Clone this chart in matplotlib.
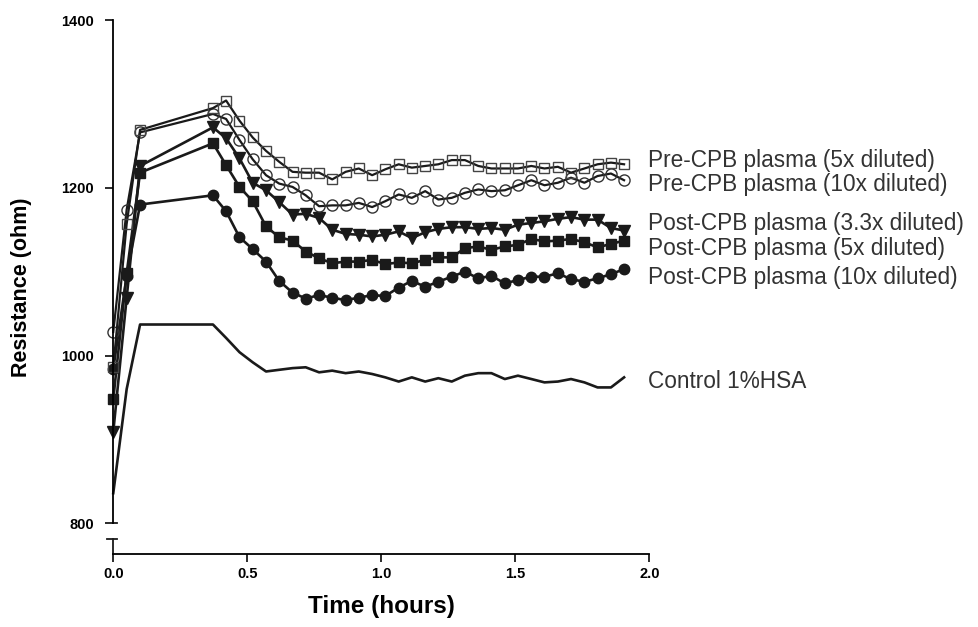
import matplotlib
matplotlib.use("Agg")
import matplotlib.pyplot as plt
from matplotlib.transforms import blended_transform_factory

plt.rcParams["font.family"] = ["Liberation Sans", "DejaVu Sans"]

# time points (hours)
times = [0.0, 0.05, 0.10,
         0.372, 0.421, 0.471, 0.520, 0.570, 0.619, 0.669, 0.718, 0.768, 0.817,
         0.867, 0.916, 0.966, 1.015, 1.065, 1.114, 1.164, 1.213, 1.263, 1.312,
         1.362, 1.411, 1.461, 1.510, 1.560, 1.609, 1.659, 1.708, 1.758, 1.807,
         1.857, 1.906]

pre_5x = [986, 1157, 1269, 1295, 1304, 1280, 1260, 1244, 1231, 1219, 1218, 1218,
          1210, 1219, 1223, 1215, 1222, 1228, 1224, 1226, 1228, 1233, 1233, 1226,
          1223, 1223, 1223, 1226, 1223, 1225, 1218, 1223, 1228, 1230, 1228]
pre_10x = [1028, 1174, 1266, 1288, 1282, 1257, 1234, 1215, 1205, 1201, 1191, 1178,
           1179, 1179, 1182, 1177, 1184, 1192, 1188, 1196, 1186, 1188, 1194, 1198,
           1196, 1197, 1203, 1209, 1203, 1206, 1212, 1206, 1214, 1217, 1209]
post_3x = [909, 1069, 1226, 1272, 1259, 1235, 1206, 1197, 1183, 1168, 1169, 1164,
           1150, 1145, 1144, 1142, 1144, 1148, 1140, 1147, 1151, 1153, 1153, 1151,
           1152, 1150, 1156, 1158, 1160, 1163, 1165, 1162, 1162, 1152, 1149]
post_5x = [948, 1098, 1218, 1253, 1227, 1201, 1184, 1154, 1141, 1137, 1124, 1116,
           1110, 1112, 1112, 1114, 1109, 1111, 1110, 1114, 1117, 1117, 1128, 1130,
           1126, 1130, 1132, 1139, 1136, 1137, 1139, 1135, 1129, 1133, 1137]
post_10x = [984, 1095, 1180, 1191, 1172, 1141, 1127, 1112, 1089, 1075, 1068, 1072,
            1069, 1066, 1069, 1072, 1071, 1081, 1089, 1082, 1088, 1094, 1100, 1092,
            1095, 1086, 1090, 1094, 1094, 1098, 1091, 1088, 1092, 1097, 1103]
control = [836, 960, 1037, 1037, 1021, 1004, 992, 981, 983, 985, 986, 980, 982,
           979, 981, 978, 974, 969, 974, 969, 973, 969, 976, 979, 979, 972, 976,
           972, 968, 969, 972, 968, 962, 962, 974]

labels = ["Pre-CPB plasma (5x diluted)", "Pre-CPB plasma (10x diluted)",
          "Post-CPB plasma (3.3x diluted)", "Post-CPB plasma (5x diluted)",
          "Post-CPB plasma (10x diluted)", "Control 1%HSA"]
label_y = [1233, 1204, 1158, 1128, 1093, 969]

fig = plt.figure(figsize=(9.79, 6.27), dpi=100)
ax = fig.add_axes([0.1157, 0.1172, 0.5475, 0.8509])

line_col = "#1a1a1a"
ax.plot(times, control, color=line_col, lw=1.9, clip_on=False)
ax.plot(times, post_10x, color=line_col, lw=1.9, marker="o", ms=7.5,
        mfc=line_col, mec=line_col, clip_on=False)
ax.plot(times, post_5x, color=line_col, lw=1.9, marker="s", ms=7.3,
        mfc=line_col, mec=line_col, clip_on=False)
ax.plot(times, post_3x, color=line_col, lw=1.9, marker="v", ms=8,
        mfc=line_col, mec=line_col, clip_on=False)
ax.plot(times, pre_10x, color=line_col, lw=1.6, marker="o", ms=8,
        mfc="none", mec="#333333", mew=1.0, clip_on=False)
ax.plot(times, pre_5x, color=line_col, lw=1.6, marker="s", ms=7.8,
        mfc="none", mec="#444444", mew=1.0, clip_on=False)

ax.set_xlim(0, 2.0)
ax.set_ylim(764, 1400)
ax.set_xticks([0, 0.5, 1.0, 1.5, 2.0])
ax.set_xticklabels(["0.0", "0.5", "1.0", "1.5", "2.0"])
ax.set_yticks([800, 1000, 1200, 1400])

for s in ["top", "right"]:
    ax.spines[s].set_visible(False)
ax.spines["left"].set_bounds(800, 1400)
ax.spines["left"].set_linewidth(1.3)
ax.spines["bottom"].set_linewidth(1.3)
ax.tick_params(direction="out", length=6, width=1.3, color=line_col)
ax.tick_params(axis="y", pad=8)
for lab in ax.get_xticklabels() + ax.get_yticklabels():
    lab.set_fontweight("bold")
    lab.set_fontsize(10.5)

# axis break on y: stub below 800 and caps
tr = blended_transform_factory(ax.transAxes, ax.transData)
ax.plot([0, 0], [764, 781.5], color=line_col, lw=1.3, transform=tr, clip_on=False)
ax.plot([-0.011, 0.0075], [781.5, 781.5], color=line_col, lw=1.3, transform=tr,
        clip_on=False)
ax.plot([0, 0.0075], [800, 800], color=line_col, lw=1.3, transform=tr, clip_on=False)

for text, y in zip(labels, label_y):
    ax.text(1.995, y, text, fontsize=16.3, ha="left", va="center",
            color="#333333", clip_on=False)

ax.set_xlabel("Time (hours)", fontsize=17.5, fontweight="bold", labelpad=10)
ax.set_ylabel("Resistance (ohm)", fontsize=15.5, fontweight="bold", labelpad=21)

fig.savefig("out.png", dpi=100)
